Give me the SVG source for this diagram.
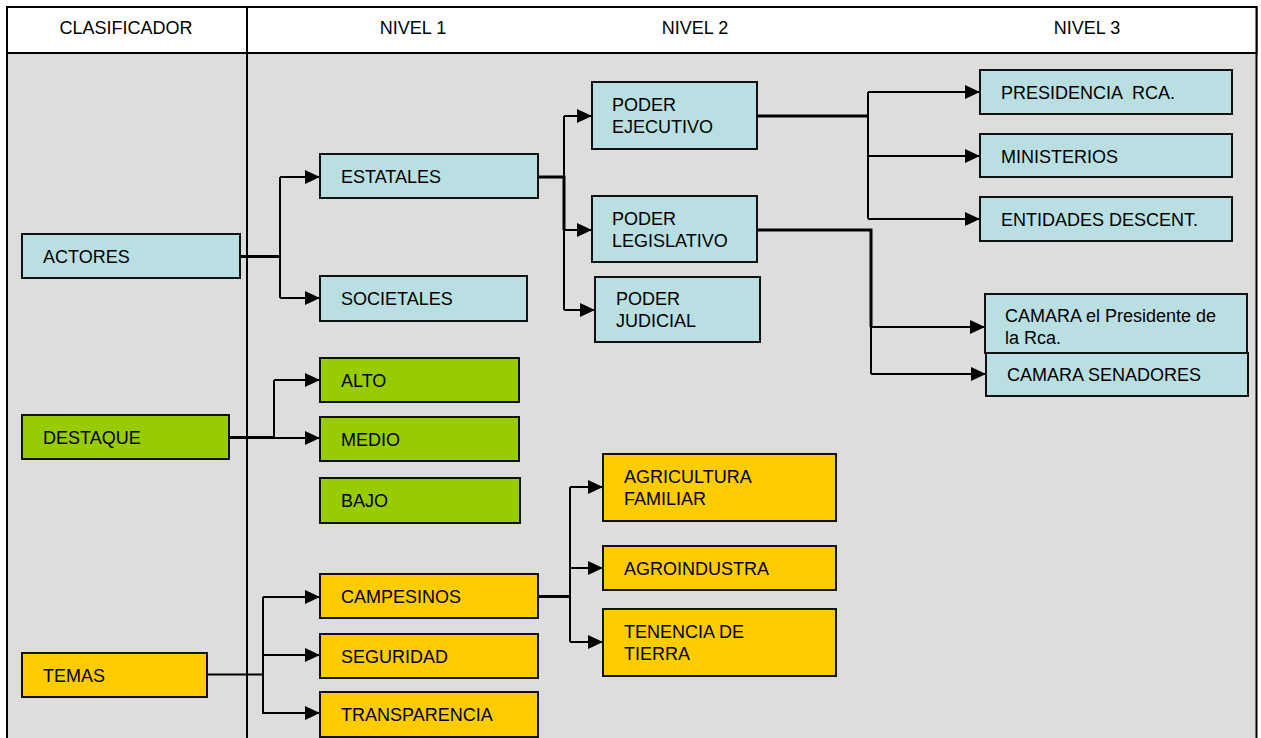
<svg xmlns="http://www.w3.org/2000/svg" width="1261" height="738" viewBox="0 0 1261 738">
<style>
  text { font-family: "Liberation Sans", Arial, sans-serif; font-size: 18px; fill: #000; }
  .hdr { text-anchor: middle; }
  .box rect { stroke: #111; stroke-width: 2; }
  .blue rect { fill: #B9DFE2; }
  .green rect { fill: #99CC00; }
  .yellow rect { fill: #FFCC00; }
  .ln { fill: none; stroke: #000; stroke-width: 2; }
  .trunk { fill: none; stroke: #000; stroke-width: 3; }
  .arr { fill: none; stroke: #000; stroke-width: 2; marker-end: url(#ah); }
</style>
<defs>
  <marker id="ah" markerUnits="userSpaceOnUse" markerWidth="16" markerHeight="14" refX="15" refY="7" orient="auto">
    <path d="M0,0 L15,7 L0,14 z" fill="#000"/>
  </marker>
</defs>

<g id="frame">
  <rect x="7" y="7" width="1249.5" height="740" fill="#DDDDDD" stroke="#000" stroke-width="2"/>
  <rect x="7" y="7" width="1249.5" height="46" fill="#FFFFFF" stroke="#000" stroke-width="2"/>
  <line x1="247" y1="7" x2="247" y2="738" stroke="#000" stroke-width="2"/>
  <text class="hdr" x="126" y="34">CLASIFICADOR</text>
  <text class="hdr" x="413" y="34">NIVEL 1</text>
  <text class="hdr" x="695" y="34">NIVEL 2</text>
  <text class="hdr" x="1087" y="34">NIVEL 3</text>
</g>

<g id="connectors">
  <!-- ACTORES -->
  <path class="trunk" d="M240,256.5 H280"/>
  <path class="ln" d="M280,177 V298"/>
  <path class="arr" d="M280,177 H320"/>
  <path class="arr" d="M280,298 H320"/>
  <!-- ESTATALES -->
  <path class="trunk" d="M538,177 H564 V230"/>
  <path class="ln" d="M564,116 V310"/>
  <path class="arr" d="M564,116 H592"/>
  <path class="arr" d="M564,230 H592"/>
  <path class="arr" d="M564,310 H595"/>
  <!-- PODER EJECUTIVO -->
  <path class="trunk" d="M757,116 H868"/>
  <path class="ln" d="M868,92 V219"/>
  <path class="arr" d="M868,92 H980"/>
  <path class="arr" d="M868,156 H980"/>
  <path class="arr" d="M868,219 H980"/>
  <!-- PODER LEGISLATIVO -->
  <path class="trunk" d="M757,230 H871 V327"/>
  <path class="ln" d="M871,230 V374"/>
  <path class="arr" d="M871,327 H985"/>
  <path class="arr" d="M871,374 H986"/>
  <!-- DESTAQUE -->
  <path class="trunk" d="M229,437.5 H274"/>
  <path class="ln" d="M274,380 V438"/>
  <path class="arr" d="M274,380 H320"/>
  <path class="arr" d="M274,438 H320"/>
  <!-- TEMAS -->
  <path class="ln" d="M207,674.5 H263"/>
  <path class="ln" d="M263,597 V714"/>
  <path class="arr" d="M263,597 H320"/>
  <path class="arr" d="M263,655 H320"/>
  <path class="arr" d="M263,713 H320"/>
  <!-- CAMPESINOS -->
  <path class="trunk" d="M538,596.5 H570"/>
  <path class="ln" d="M570,487 V642"/>
  <path class="arr" d="M570,487 H603"/>
  <path class="arr" d="M570,568 H603"/>
  <path class="arr" d="M570,642 H603"/>
</g>

<g id="actores" class="box blue"><rect x="22" y="234" width="218" height="44"/><text x="43" y="263">ACTORES</text></g>
<g id="destaque" class="box green"><rect x="22" y="415" width="207" height="44"/><text x="43" y="444">DESTAQUE</text></g>
<g id="temas" class="box yellow"><rect x="22" y="653" width="185" height="44"/><text x="43" y="682">TEMAS</text></g>

<g id="estatales" class="box blue"><rect x="320" y="154" width="218" height="44"/><text x="341" y="183">ESTATALES</text></g>
<g id="societales" class="box blue"><rect x="320" y="276" width="207" height="45"/><text x="341" y="305">SOCIETALES</text></g>
<g id="alto" class="box green"><rect x="320" y="358" width="199" height="44"/><text x="341" y="387">ALTO</text></g>
<g id="medio" class="box green"><rect x="320" y="417" width="199" height="44"/><text x="341" y="446">MEDIO</text></g>
<g id="bajo" class="box green"><rect x="320" y="478" width="200" height="45"/><text x="341" y="507">BAJO</text></g>
<g id="campesinos" class="box yellow"><rect x="320" y="574" width="218" height="44"/><text x="341" y="603">CAMPESINOS</text></g>
<g id="seguridad" class="box yellow"><rect x="320" y="634" width="218" height="44"/><text x="341" y="663">SEGURIDAD</text></g>
<g id="transparencia" class="box yellow"><rect x="320" y="692" width="218" height="45"/><text x="341" y="721">TRANSPARENCIA</text></g>

<g id="poder-ejecutivo" class="box blue"><rect x="592" y="82" width="165" height="67"/><text x="612" y="111">PODER</text><text x="612" y="133">EJECUTIVO</text></g>
<g id="poder-legislativo" class="box blue"><rect x="592" y="196" width="165" height="66"/><text x="612" y="225">PODER</text><text x="612" y="247">LEGISLATIVO</text></g>
<g id="poder-judicial" class="box blue"><rect x="595" y="277" width="165" height="65"/><text x="616" y="305">PODER</text><text x="616" y="327">JUDICIAL</text></g>

<g id="agricultura-familiar" class="box yellow"><rect x="603" y="454" width="233" height="67"/><text x="624" y="483">AGRICULTURA</text><text x="624" y="505">FAMILIAR</text></g>
<g id="agroindustra" class="box yellow"><rect x="603" y="546" width="233" height="44"/><text x="624" y="575">AGROINDUSTRA</text></g>
<g id="tenencia" class="box yellow"><rect x="603" y="609" width="233" height="67"/><text x="624" y="638">TENENCIA DE</text><text x="624" y="660">TIERRA</text></g>

<g id="presidencia" class="box blue"><rect x="980" y="70" width="252" height="44"/><text x="1001" y="99" xml:space="preserve">PRESIDENCIA  RCA.</text></g>
<g id="ministerios" class="box blue"><rect x="980" y="134" width="252" height="43"/><text x="1001" y="163">MINISTERIOS</text></g>
<g id="entidades" class="box blue"><rect x="980" y="197" width="252" height="44"/><text x="1001" y="226">ENTIDADES DESCENT.</text></g>
<g id="camara-presidente" class="box blue"><rect x="985" y="294" width="262" height="59"/><text x="1005" y="322">CAMARA el Presidente de</text><text x="1005" y="344">la Rca.</text></g>
<g id="camara-senadores" class="box blue"><rect x="986" y="353" width="262" height="43"/><text x="1007" y="381">CAMARA SENADORES</text></g>
</svg>
